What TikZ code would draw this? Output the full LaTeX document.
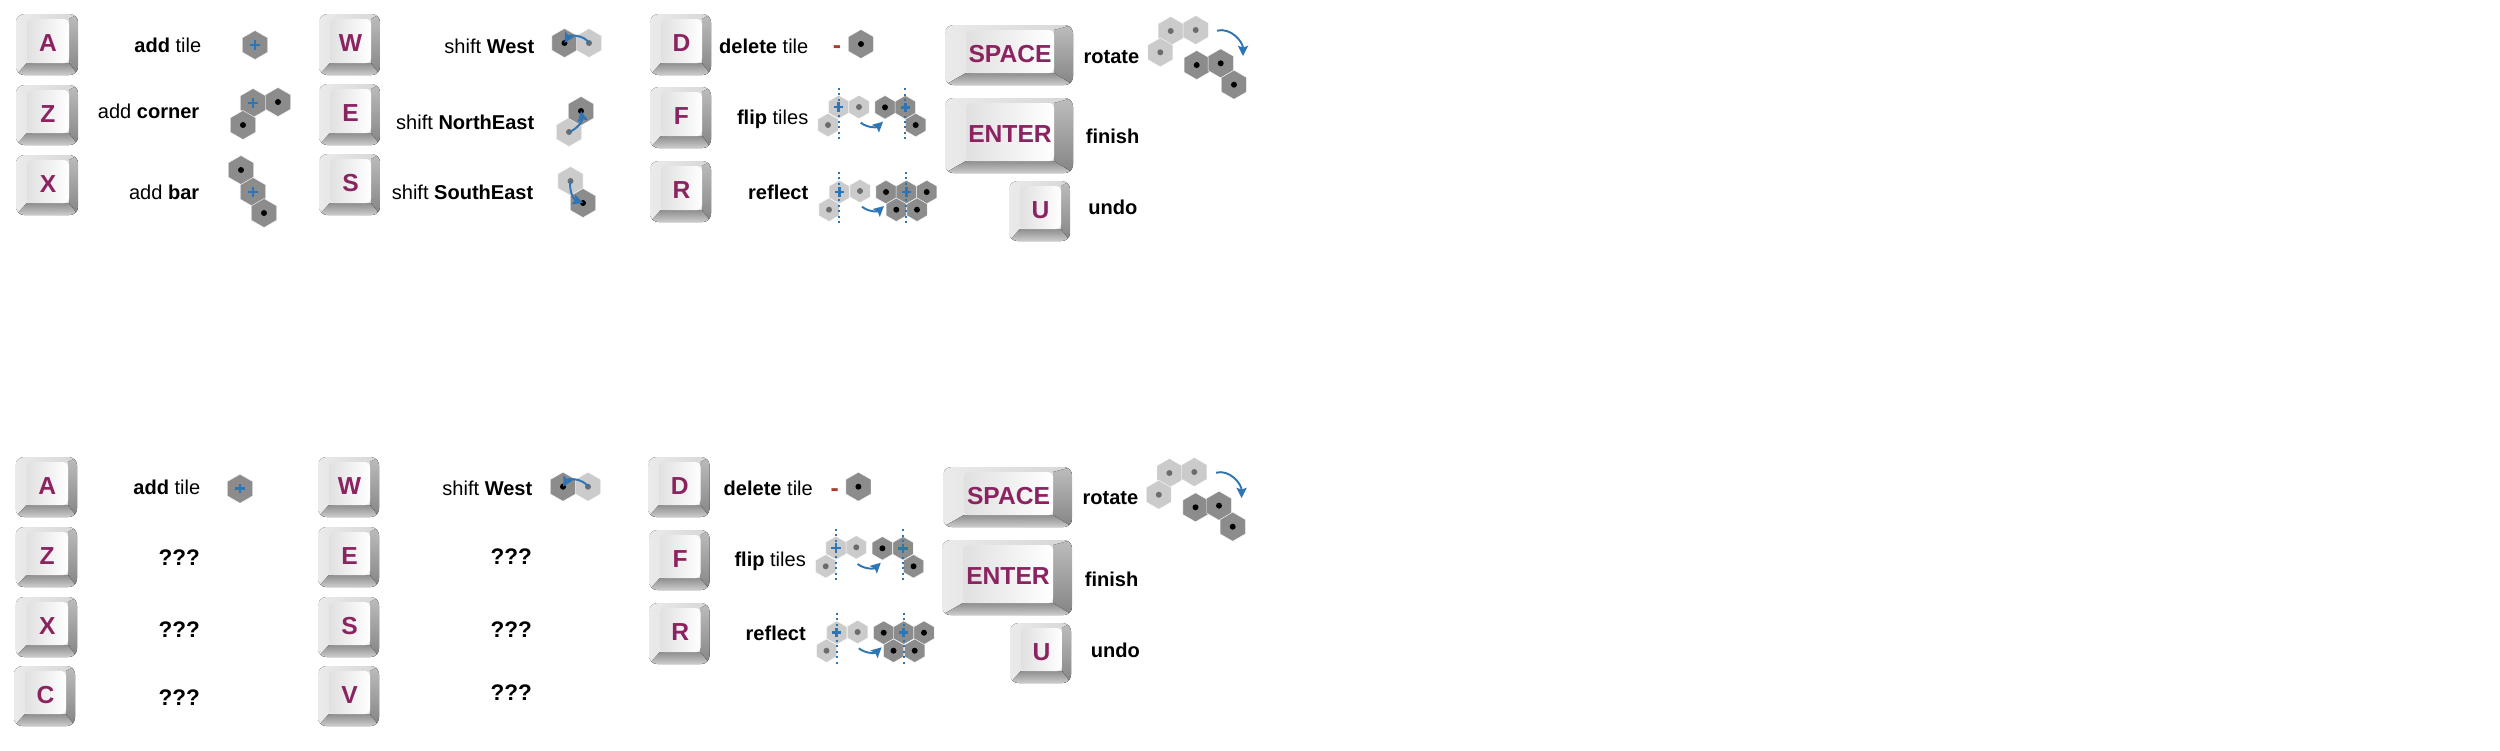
\documentclass[tikz,border=0pt]{standalone}
\usepackage{fontspec}
\setmainfont{Liberation Sans}
\usetikzlibrary{shapes.geometric,arrows.meta}

\definecolor{keytext}{HTML}{8B2361}
\definecolor{tiledark}{HTML}{8C8C8C}
\definecolor{tilelight}{HTML}{CBCBCB}
\definecolor{dotgrey}{HTML}{6C6C6C}
\definecolor{markblue}{HTML}{2E75B6}
\definecolor{minusred}{HTML}{B03A2E}

\tikzset{
  keyface/.style={rectangle,rounded corners=1.3pt,inner sep=0pt,outer sep=0pt,left color=black!12,right color=white,text=keytext,text height=6pt,text depth=0pt,font=\fontsize{7}{8}\selectfont\bfseries},
  keylabel/.style={anchor=base east,inner sep=0pt,font=\fontsize{5.7}{7}\selectfont},
  quizlabel/.style={anchor=base east,inner sep=0pt,font=\fontsize{6.4}{7}\selectfont\bfseries},
  minuslabel/.style={text=minusred,font=\fontsize{7}{8}\selectfont\bfseries,inner sep=0pt},
  hexcell/.style={regular polygon,regular polygon sides=6,shape border rotate=30,inner sep=0pt,outer sep=0pt,minimum size=0.29cm,draw=white,line width=0.1pt},
  hexsmall/.style={minimum size=0.235cm},
  hexdark/.style={hexcell,fill=tiledark},
  hexlight/.style={hexcell,fill=tilelight},
  blackdot/.style={path picture={\fill[black] (path picture bounding box.center) circle (0.85pt);}},
  greydot/.style={path picture={\fill[dotgrey] (path picture bounding box.center) circle (0.85pt);}},
  plusmark/.style={path picture={
    \draw[markblue,line width=0.7pt] ([xshift=-1.3pt]path picture bounding box.center) -- ([xshift=1.3pt]path picture bounding box.center);
    \draw[markblue,line width=0.7pt] ([yshift=-1.3pt]path picture bounding box.center) -- ([yshift=1.3pt]path picture bounding box.center);}},
  bluearrow/.style={-{Stealth[length=2.9pt,width=2.9pt,inset=0.5pt]},markblue,line width=0.55pt},
  axisline/.style={markblue,densely dotted,line width=0.55pt},
}

% optional: width of the left side; then name, left, top, right, bottom, letter
\newcommand{\keycap}[7][11]{
  \begin{scope}
    \clip[rounded corners=2.4pt] (#3,#4) rectangle (#5,#6);
    \fill[left color=black!8,right color=black!16] (#3,#4) rectangle (#5,#6);
    \fill[top color=black!26,bottom color=black!48] (#5,#4) -- ({#5-#1+2},{#4+5}) -- ({#5-#1+2},{#6-12}) -- (#5,#6) -- cycle;
    \fill[top color=black!44,bottom color=black!20] (#3,#6) -- ({#3+#1},{#6-12}) -- ({#5-#1+2},{#6-12}) -- (#5,#6) -- cycle;
  \end{scope}
  \node[keyface,minimum width={(#5-#3-2*#1+2)*0.01cm},minimum height={(#6-#4-17)*0.01cm}] (#2) at ({(#3+#5+2)/2},{(#4+#6-7)/2}) {#7};
}

\begin{document}
\begin{tikzpicture}[x=0.01cm,y=-0.01cm]
\useasboundingbox (0,0) rectangle (2500,750);

% upper panel: keys
\keycap{keyA}{16}{14}{78}{75}{A}
\keycap{keyZ}{16}{85}{78}{145}{Z}
\keycap{keyX}{16}{155}{78}{215}{X}
\keycap{keyW}{319}{14}{380}{75}{W}
\keycap{keyE}{319}{84}{380}{145}{E}
\keycap{keyS}{319}{154}{380}{215}{S}
\keycap{keyD}{650}{14}{711}{75}{D}
\keycap{keyF}{650}{87}{711}{148}{F}
\keycap{keyR}{650}{161}{711}{222}{R}
\keycap[21]{keySpace}{945}{25}{1073}{85}{SPACE}
\keycap[21]{keyEnter}{945}{98}{1073}{173}{ENTER}
\keycap{keyU}{1009}{181}{1070}{241}{U}

% upper panel: labels
\node [keylabel] (labA) at (202,52) {\textbf{add} tile};
\node [keylabel] (labZ) at (200,118) {add \textbf{corner}};
\node [keylabel] (labX) at (200,199) {add \textbf{bar}};
\node [keylabel] (labW) at (535,53) {shift \textbf{West}};
\node [keylabel] (labE) at (535,129) {shift \textbf{NorthEast}};
\node [keylabel] (labS) at (534,199) {shift \textbf{SouthEast}};
\node [keylabel] (labD) at (809,53) {\textbf{delete} tile};
\node [keylabel] (labF) at (809,124) {\textbf{flip} tiles};
\node [keylabel] (labR) at (809,199) {\textbf{reflect}};
\node [keylabel] (labSpace) at (1140,63) {\textbf{rotate}};
\node [keylabel] (labEnter) at (1140,143) {\textbf{finish}};
\node [keylabel] (labU) at (1138,214) {\textbf{undo}};

% upper panel: add
\node [hexdark,plusmark] (ta) at (255,45) {};
\node [hexdark,plusmark] (tz1) at (253,103) {};
\node [hexdark,blackdot] (tz2) at (278,102) {};
\node [hexdark,blackdot] (tz3) at (243,125) {};
\node [hexdark,blackdot] (tx1) at (241,170) {};
\node [hexdark,plusmark] (tx2) at (253,192) {};
\node [hexdark,blackdot] (tx3) at (264,213) {};

% upper panel: shift
\node [hexdark,blackdot] (wd) at (564.5,43) {};
\node [hexlight,greydot] (wl) at (589,43) {};
\draw [bluearrow] (wl.center) to[bend right=60] (wd.center);
\node [hexlight,greydot] (el) at (569,132) {};
\node [hexdark,blackdot] (ed) at (581,111) {};
\draw [bluearrow] (el.center) to[bend right=40] (ed.center);
\node [hexlight,greydot] (sl) at (570.5,181) {};
\node [hexdark,blackdot] (sd) at (583,203) {};
\draw [bluearrow] (sl.center) to[bend right=40] (sd.center);

% upper panel: delete, flip, reflect
\node [minuslabel] (minusD) at (837,50) {-};
\node [hexdark,blackdot] (dt) at (861,44) {};

\node [hexlight,hexsmall,plusmark] (fl1) at (838.7,107) {};
\node [hexlight,hexsmall,greydot] (fl2) at (859,107) {};
\node [hexlight,hexsmall,greydot] (fl3) at (828,125) {};
\node [hexdark,hexsmall,blackdot] (fd1) at (885,107.3) {};
\node [hexdark,hexsmall,plusmark] (fd2) at (905.3,107.3) {};
\node [hexdark,hexsmall,blackdot] (fd3) at (915.7,125) {};
\draw [axisline] (fl1.center) ++(0,-19) -- ++(0,54);
\draw [axisline] (fd2.center) ++(0,-19) -- ++(0,54);
\coordinate (fa1) at (860.7,122.7);
\coordinate (fa2) at (883,121.7);
\draw [bluearrow] (fa1) to[bend right=40] (fa2);

\node [hexlight,hexsmall,plusmark] (rl1) at (839.3,192) {};
\node [hexlight,hexsmall,greydot] (rl2) at (860,191) {};
\node [hexlight,hexsmall,greydot] (rl3) at (829,209.7) {};
\node [hexdark,hexsmall,blackdot] (rd1) at (886,192) {};
\node [hexdark,hexsmall,plusmark] (rd2) at (906.3,192) {};
\node [hexdark,hexsmall,blackdot] (rd3) at (926.7,192) {};
\node [hexdark,hexsmall,blackdot] (rd4) at (896.3,209.7) {};
\node [hexdark,hexsmall,blackdot] (rd5) at (917,209.7) {};
\draw [axisline] (rl1.center) ++(0,-20) -- ++(0,54);
\draw [axisline] (rd2.center) ++(0,-20) -- ++(0,54);
\coordinate (ra1) at (862,206.7);
\coordinate (ra2) at (884,206);
\draw [bluearrow] (ra1) to[bend right=40] (ra2);

% upper panel: rotate
\node [hexlight,greydot] (ql1) at (1170.7,31) {};
\node [hexlight,greydot] (ql2) at (1195.7,30) {};
\node [hexlight,greydot] (ql3) at (1160.3,52.3) {};
\node [hexdark,blackdot] (qd1) at (1196.7,65) {};
\node [hexdark,blackdot] (qd2) at (1220.7,63.3) {};
\node [hexdark,blackdot] (qd3) at (1234,84.7) {};
\coordinate (qa1) at (1217,30.7);
\coordinate (qa2) at (1243,56);
\draw [bluearrow] (qa1) to[out=15,in=90] (qa2);

% lower panel: keys
\keycap{bkeyA}{15.5}{457}{77}{517}{A}
\keycap{bkeyZ}{15.5}{527}{77}{587}{Z}
\keycap{bkeyX}{15.5}{597}{77}{657}{X}
\keycap{bkeyC}{14}{666}{75}{726}{C}
\keycap{bkeyW}{318}{457}{379}{517}{W}
\keycap{bkeyE}{318}{527}{379}{587}{E}
\keycap{bkeyS}{318}{597}{379}{657}{S}
\keycap{bkeyV}{318}{666}{379}{726}{V}
\keycap{bkeyD}{648}{457}{709.5}{517}{D}
\keycap{bkeyF}{649}{530}{709.5}{590}{F}
\keycap{bkeyR}{649}{603}{709.5}{664}{R}
\keycap[21]{bkeySpace}{943}{467}{1072}{527}{SPACE}
\keycap[21]{bkeyEnter}{942}{540}{1072}{615}{ENTER}
\keycap{bkeyU}{1010}{623}{1071}{683}{U}

% lower panel: labels
\node [keylabel] (blabA) at (201,494) {\textbf{add} tile};
\node [quizlabel] (blabZ) at (200.5,565) {???};
\node [quizlabel] (blabX) at (200.5,637) {???};
\node [quizlabel] (blabC) at (200.5,705) {???};
\node [keylabel] (blabW) at (533,495) {shift \textbf{West}};
\node [quizlabel] (blabE) at (532.5,564) {???};
\node [quizlabel] (blabS) at (532.5,637) {???};
\node [quizlabel] (blabV) at (532.5,700) {???};
\node [keylabel] (blabD) at (813.5,495) {\textbf{delete} tile};
\node [keylabel] (blabF) at (806.5,566) {\textbf{flip} tiles};
\node [keylabel] (blabR) at (806.5,640) {\textbf{reflect}};
\node [keylabel] (blabSpace) at (1139,504) {\textbf{rotate}};
\node [keylabel] (blabEnter) at (1139,586) {\textbf{finish}};
\node [keylabel] (blabU) at (1140.5,657) {\textbf{undo}};

% lower panel: tiles
\node [hexdark,plusmark] (bta) at (240,488.7) {};
\node [hexdark,blackdot] (bwd) at (563,486.7) {};
\node [hexlight,greydot] (bwl) at (588,486.7) {};
\draw [bluearrow] (bwl.center) to[bend right=60] (bwd.center);

\node [minuslabel] (bminusD) at (834.7,493) {-};
\node [hexdark,blackdot] (bdt) at (858.4,486.7) {};

\node [hexlight,hexsmall,plusmark] (bfl1) at (836,548) {};
\node [hexlight,hexsmall,greydot] (bfl2) at (856.3,547.3) {};
\node [hexlight,hexsmall,greydot] (bfl3) at (825.7,566.3) {};
\node [hexdark,hexsmall,blackdot] (bfd1) at (882.4,548.3) {};
\node [hexdark,hexsmall,plusmark] (bfd2) at (903,548.3) {};
\node [hexdark,hexsmall,blackdot] (bfd3) at (913.5,566.3) {};
\draw [axisline] (bfl1.center) ++(0,-19) -- ++(0,54);
\draw [axisline] (bfd2.center) ++(0,-19) -- ++(0,54);
\coordinate (bfa1) at (857.6,564);
\coordinate (bfa2) at (880.8,562.7);
\draw [bluearrow] (bfa1) to[bend right=40] (bfa2);

\node [hexlight,hexsmall,plusmark] (brl1) at (836.7,632.7) {};
\node [hexlight,hexsmall,greydot] (brl2) at (857.6,632) {};
\node [hexlight,hexsmall,greydot] (brl3) at (826.5,650.7) {};
\node [hexdark,hexsmall,blackdot] (brd1) at (883.7,632.7) {};
\node [hexdark,hexsmall,plusmark] (brd2) at (903.7,632.7) {};
\node [hexdark,hexsmall,blackdot] (brd3) at (924,632.7) {};
\node [hexdark,hexsmall,blackdot] (brd4) at (893.5,650.7) {};
\node [hexdark,hexsmall,blackdot] (brd5) at (914.7,650.7) {};
\draw [axisline] (brl1.center) ++(0,-20) -- ++(0,54);
\draw [axisline] (brd2.center) ++(0,-20) -- ++(0,54);
\coordinate (bra1) at (858.8,648.3);
\coordinate (bra2) at (881.6,647.3);
\draw [bluearrow] (bra1) to[bend right=40] (bra2);

\node [hexlight,greydot] (bql1) at (1169.4,473) {};
\node [hexlight,greydot] (bql2) at (1194.3,472) {};
\node [hexlight,greydot] (bql3) at (1158.8,494.7) {};
\node [hexdark,blackdot] (bqd1) at (1195.5,507.3) {};
\node [hexdark,blackdot] (bqd2) at (1219,505.7) {};
\node [hexdark,blackdot] (bqd3) at (1232.7,526.7) {};
\coordinate (bqa1) at (1216,472.7);
\coordinate (bqa2) at (1241.6,498);
\draw [bluearrow] (bqa1) to[out=15,in=90] (bqa2);
\end{tikzpicture}
\end{document}
